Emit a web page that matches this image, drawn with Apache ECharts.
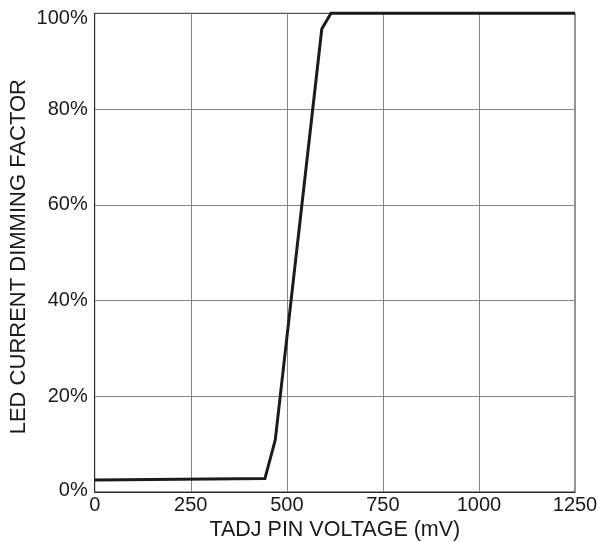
<!DOCTYPE html>
<html>
<head>
<meta charset="utf-8">
<script src="https://cdn.jsdelivr.net/npm/echarts@6/dist/echarts.min.js"></script>
<style>html,body{margin:0;padding:0;background:#fff}#c{width:598px;height:542px}</style>
</head>
<body>
<div id="c"></div>
<script>
const voltage = [0, 443, 470, 591, 615, 1250];
const dimming = [2.5, 2.8, 10.9, 96.7, 100, 100];
const xTicks = [0, 250, 500, 750, 1000, 1250];
const yTicks = [0, 20, 40, 60, 80, 100];
const xName = 'TADJ PIN VOLTAGE (mV)';
const yName = 'LED CURRENT DIMMING FACTOR';

const font = 'Liberation Sans, Arial, sans-serif';
const chart = echarts.init(document.getElementById('c'), null, {renderer: 'canvas'});
chart.setOption({
  animation: false,
  backgroundColor: '#fff',
  grid: {left: 94.7, right: 23, top: 13.3, bottom: 50, containLabel: false, outerBoundsMode: 'none', show: true, borderColor: '#2a2a2a', borderWidth: 1, backgroundColor: 'transparent'},
  xAxis: {
    type: 'value', min: xTicks[0], max: xTicks[xTicks.length - 1], interval: 250,
    name: xName, nameLocation: 'middle', nameGap: 27, nameMoveOverlap: false,
    nameTextStyle: {fontFamily: font, fontSize: 21.5, color: '#1a1a1a'},
    axisLine: {show: true, lineStyle: {color: '#2a2a2a', width: 1}},
    axisTick: {show: false},
    axisLabel: {fontFamily: font, fontSize: 20, color: '#1a1a1a', margin: 3, formatter: function (v) { return String(v); }},
    splitLine: {show: true, showMinLine: false, showMaxLine: false, lineStyle: {color: '#858585', width: 1}}
  },
  yAxis: {
    type: 'value', min: yTicks[0], max: yTicks[yTicks.length - 1], interval: 20,
    name: yName, nameLocation: 'middle', nameGap: 65, nameRotate: 90, nameMoveOverlap: false,
    nameTextStyle: {fontFamily: font, fontSize: 22, color: '#1a1a1a', padding: [0, 8, 0, 0]},
    axisLine: {show: true, lineStyle: {color: '#2a2a2a', width: 1}},
    axisTick: {show: false},
    axisLabel: {
      fontFamily: font, fontSize: 20, color: '#1a1a1a', margin: 7,
      formatter: function (v) {
        if (v === 100) return '{top|' + v + '%}';
        if (v === 0) return '{bot|' + v + '%}';
        return v + '%';
      },
      rich: {
        top: {fontFamily: font, fontSize: 20, color: '#1a1a1a', padding: [11, 0, 0, 0]},
        bot: {fontFamily: font, fontSize: 20, color: '#1a1a1a', padding: [0, 0, 4, 0]}
      }
    },
    splitLine: {show: true, showMinLine: false, showMaxLine: false, lineStyle: {color: '#858585', width: 1}}
  },
  series: [{
    type: 'line',
    data: voltage.map((v, i) => [v, dimming[i]]),
    symbol: 'none',
    clip: false,
    lineStyle: {color: '#1e1a1b', width: 3, join: 'miter'}
  }]
});
</script>
</body>
</html>
